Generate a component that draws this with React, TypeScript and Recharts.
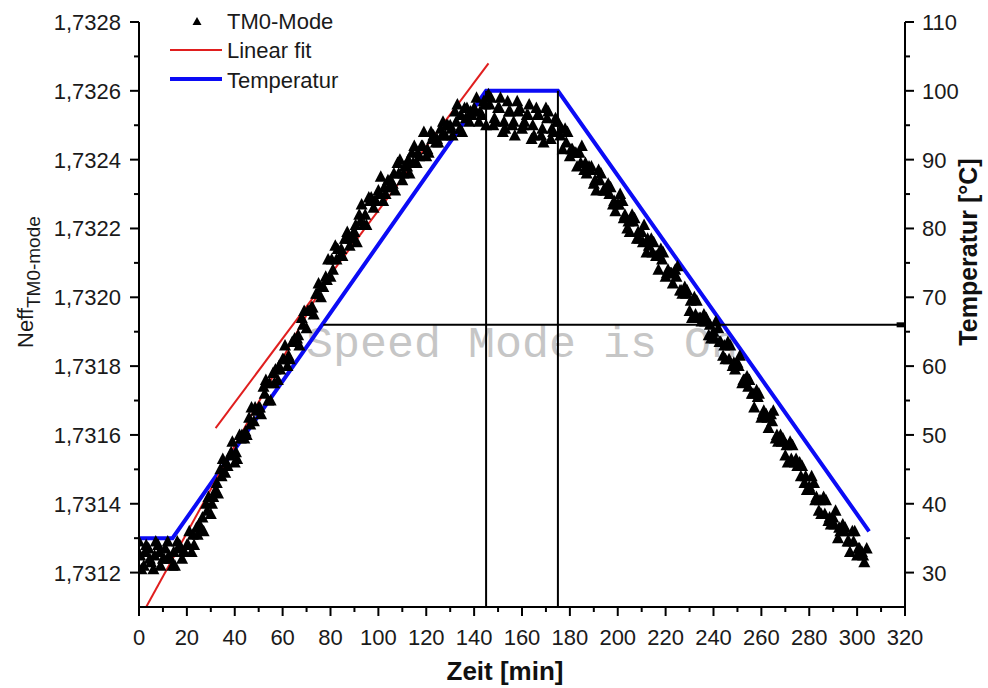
import React from "react";
import { ComposedChart, Scatter, Line, XAxis, YAxis, ReferenceLine, Legend } from "recharts";

const FONT = "'Liberation Sans', Arial, Helvetica, sans-serif";

// measurement time [min], even readings
const scanTimesA = [
  0, 2, 4, 6, 8, 10, 12, 14,
  16, 18, 20, 22, 24, 26, 28, 30, 32, 34, 36, 38, 40, 42, 44, 46, 48, 50, 52, 54,
  56, 58, 60, 62, 64, 66, 68, 70, 72, 74, 76, 78, 80, 82, 84, 86, 88, 90, 92, 94,
  96, 98, 100, 102, 104, 106, 108, 110, 112, 114, 116, 118, 120, 122, 124, 126, 128, 130, 132, 134,
  136, 138, 140, 142, 144,
  146, 148, 150, 152, 154, 156, 158, 160, 162, 164, 166, 168, 170, 172, 174,
  176, 178, 180, 182, 184, 186, 188, 190, 192, 194, 196, 198, 200, 202, 204, 206, 208, 210, 212, 214,
  216, 218, 220, 222, 224, 226, 228, 230, 232, 234, 236, 238, 240, 242, 244, 246, 248, 250, 252, 254,
  256, 258, 260, 262, 264, 266, 268, 270, 272, 274, 276, 278, 280, 282, 284, 286, 288, 290, 292, 294,
  296, 298, 300, 302, 304,
];

// effective index of the TM0 mode, even readings
const neffA = [
  1.73129, 1.73122, 1.73127, 1.73121, 1.73128, 1.73124, 1.73129, 1.73122,
  1.73129, 1.73124, 1.73128, 1.73126, 1.73133, 1.73133, 1.7314, 1.73137, 1.73144, 1.7315,
  1.73149, 1.73154, 1.73152, 1.7316, 1.73159, 1.73165, 1.73164, 1.73168, 1.73174, 1.7317,
  1.73178, 1.73176, 1.73182, 1.7318, 1.73187, 1.73188, 1.73194, 1.73191, 1.73197, 1.73201,
  1.732, 1.73206, 1.73206, 1.73215, 1.73212, 1.73217, 1.73215, 1.73219, 1.73224, 1.73221,
  1.73229, 1.73226, 1.73231, 1.73228, 1.73234, 1.73233, 1.73239, 1.73234, 1.73238, 1.73242,
  1.73239, 1.73244, 1.73241, 1.73248, 1.73245, 1.73249, 1.73247, 1.7325, 1.73254, 1.73249,
  1.73255, 1.73251, 1.73255, 1.73251, 1.73257,
  1.73259, 1.7325, 1.73255, 1.73248, 1.73257, 1.7325, 1.73257, 1.73249, 1.73253, 1.73246,
  1.73255, 1.73247, 1.73255, 1.73246, 1.73252,
  1.73247, 1.73249, 1.73241, 1.73242, 1.73242, 1.73237, 1.73238, 1.73233, 1.73237, 1.73231,
  1.73233, 1.73227, 1.73227, 1.73228, 1.7322, 1.73224, 1.73217, 1.73219, 1.73213, 1.73217,
  1.73212, 1.73214, 1.73206, 1.73207, 1.73208, 1.73202, 1.73203, 1.73196, 1.732, 1.73194,
  1.73195, 1.73189, 1.7319, 1.73191, 1.73183, 1.73187, 1.7318, 1.73181, 1.73175, 1.73177,
  1.73172, 1.73173, 1.73165, 1.73166, 1.73166, 1.73159, 1.7316, 1.73154, 1.73158, 1.73152,
  1.73152, 1.73146, 1.73145, 1.73146, 1.73138, 1.73142, 1.73135, 1.73136, 1.7313, 1.73134,
  1.73129, 1.73132, 1.73125, 1.73126, 1.73127,
];

// measurement time [min], odd readings
const scanTimesB = [
  1, 3, 5, 7, 9, 11, 13,
  15, 17, 19, 21, 23, 25, 27, 29, 31, 33, 35, 37, 39, 41, 43, 45, 47, 49, 51, 53,
  55, 57, 59, 61, 63, 65, 67, 69, 71, 73, 75, 77, 79, 81, 83, 85, 87, 89, 91, 93,
  95, 97, 99, 101, 103, 105, 107, 109, 111, 113, 115, 117, 119, 121, 123, 125, 127, 129, 131, 133,
  135, 137, 139, 141, 143,
  145, 147, 149, 151, 153, 155, 157, 159, 161, 163, 165, 167, 169, 171, 173,
  175, 177, 179, 181, 183, 185, 187, 189, 191, 193, 195, 197, 199, 201, 203, 205, 207, 209, 211, 213,
  215, 217, 219, 221, 223, 225, 227, 229, 231, 233, 235, 237, 239, 241, 243, 245, 247, 249, 251, 253,
  255, 257, 259, 261, 263, 265, 267, 269, 271, 273, 275, 277, 279, 281, 283, 285, 287, 289, 291, 293,
  295, 297, 299, 301, 303,
];

// effective index of the TM0 mode, odd readings
const neffB = [
  1.73121, 1.73128, 1.73123, 1.73129, 1.73122, 1.73127, 1.73124,
  1.73122, 1.73128, 1.73126, 1.73132, 1.73128, 1.73134, 1.73132, 1.73142, 1.73142, 1.73143,
  1.73153, 1.73151, 1.73158, 1.73153, 1.7316, 1.7316, 1.73168, 1.73167, 1.73166, 1.73176,
  1.7317, 1.73179, 1.73179, 1.73186, 1.73182, 1.73188, 1.73186, 1.73196, 1.73196, 1.73195,
  1.73204, 1.73203, 1.73211, 1.73208, 1.73214, 1.73212, 1.73219, 1.73218, 1.73216, 1.73227,
  1.73221, 1.73229, 1.73228, 1.73235, 1.7323, 1.73234, 1.73231, 1.7324, 1.73238, 1.73236,
  1.73244, 1.73241, 1.73248, 1.73242, 1.73247, 1.73245, 1.73251, 1.7325, 1.73247, 1.73256,
  1.73248, 1.73255, 1.73253, 1.73258, 1.73253,
  1.7325, 1.73258, 1.73251, 1.73258, 1.73249, 1.73254, 1.73247, 1.73255, 1.73251, 1.73256,
  1.73247, 1.73253, 1.73245, 1.73254, 1.73248,
  1.73251, 1.73243, 1.73248, 1.73243, 1.73238, 1.73244, 1.73236, 1.73238, 1.73231, 1.73236,
  1.73231, 1.73232, 1.73225, 1.7323, 1.73224, 1.73219, 1.73223, 1.73217, 1.73221, 1.73215,
  1.73216, 1.73208, 1.73213, 1.73208, 1.73204, 1.73209, 1.73201, 1.73202, 1.73194, 1.73199,
  1.73193, 1.73194, 1.73188, 1.73193, 1.73187, 1.73182, 1.73186, 1.73179, 1.73183, 1.73176,
  1.73176, 1.73168, 1.73172, 1.73167, 1.73162, 1.73167, 1.73158, 1.73159, 1.73152, 1.73157,
  1.73151, 1.73151, 1.73144, 1.73148, 1.73142, 1.73137, 1.73141, 1.73134, 1.73138, 1.73132,
  1.73133, 1.73126, 1.73132, 1.73127, 1.73123,
];

// measurement time [min], half-minute readings
const scanTimesC = [
  0.5, 2.5, 4.5, 6.5, 8.5, 10.5, 12.5, 14.5,
  16.5, 18.5, 20.5, 22.5, 24.5, 26.5, 28.5, 30.5, 32.5, 34.5, 36.5, 38.5, 40.5, 42.5, 44.5, 46.5, 48.5, 50.5,
  52.5, 54.5, 56.5, 58.5, 60.5, 62.5, 64.5, 66.5, 68.5, 70.5, 72.5, 74.5, 76.5, 78.5, 80.5, 82.5, 84.5, 86.5,
  88.5, 90.5, 92.5, 94.5, 96.5, 98.5, 100.5, 102.5, 104.5, 106.5, 108.5, 110.5, 112.5, 114.5, 116.5, 118.5,
  120.5, 122.5, 124.5, 126.5, 128.5, 130.5, 132.5, 134.5, 136.5, 138.5, 140.5, 142.5, 144.5,
  146.5, 148.5, 150.5, 152.5, 154.5, 156.5, 158.5, 160.5, 162.5, 164.5, 166.5, 168.5, 170.5, 172.5, 174.5,
  176.5, 178.5, 180.5, 182.5, 184.5, 186.5, 188.5, 190.5, 192.5, 194.5, 196.5, 198.5, 200.5, 202.5, 204.5,
  206.5, 208.5, 210.5, 212.5, 214.5, 216.5, 218.5, 220.5, 222.5, 224.5, 226.5, 228.5, 230.5, 232.5, 234.5,
  236.5, 238.5, 240.5, 242.5, 244.5, 246.5, 248.5, 250.5, 252.5, 254.5, 256.5, 258.5, 260.5, 262.5, 264.5,
  266.5, 268.5, 270.5, 272.5, 274.5, 276.5, 278.5, 280.5, 282.5, 284.5, 286.5, 288.5, 290.5, 292.5, 294.5,
  296.5, 298.5, 300.5, 302.5,
];

// effective index of the TM0 mode, half-minute readings
const neffC = [
  1.73125, 1.73126, 1.73124, 1.73125, 1.73126, 1.73124, 1.73125, 1.73126,
  1.73127, 1.73126, 1.73128, 1.73131, 1.73131, 1.73136, 1.73138, 1.7314, 1.73146, 1.73148,
  1.73152, 1.73155, 1.73155, 1.73159, 1.73161, 1.73163, 1.73168, 1.73168, 1.73172, 1.73175,
  1.73175, 1.7318, 1.73182, 1.73183, 1.73187, 1.73189, 1.73192, 1.73196, 1.73197, 1.73201,
  1.73203, 1.73205, 1.73211, 1.73211, 1.73214, 1.73217, 1.73217, 1.73221, 1.73222, 1.73224,
  1.73228, 1.73228, 1.7323, 1.73232, 1.73232, 1.73236, 1.73236, 1.73236, 1.7324, 1.73239,
  1.73242, 1.73244, 1.73243, 1.73246, 1.73246, 1.73247, 1.7325, 1.73249, 1.73251, 1.73253,
  1.73252, 1.73254, 1.73254, 1.73254, 1.73256,
  1.73256, 1.73252, 1.73255, 1.73251, 1.73254, 1.73251, 1.73254, 1.7325, 1.73253, 1.7325,
  1.73253, 1.73249, 1.73252, 1.73249, 1.73251,
  1.73249, 1.73245, 1.73243, 1.73242, 1.73239, 1.73239, 1.73237, 1.73234, 1.73234, 1.73231,
  1.7323, 1.73228, 1.73227, 1.73223, 1.73222, 1.73222, 1.73219, 1.73216, 1.73217, 1.73213,
  1.73212, 1.73211, 1.73207, 1.73207, 1.73206, 1.73202, 1.73201, 1.73199, 1.73195, 1.73194,
  1.73193, 1.73192, 1.73188, 1.73187, 1.73186, 1.73182, 1.73181, 1.7318, 1.73176, 1.73174,
  1.73172, 1.73171, 1.73166, 1.73165, 1.73164, 1.7316, 1.73158, 1.73157, 1.73153, 1.73153,
  1.73148, 1.73148, 1.73144, 1.73141, 1.73141, 1.73137, 1.73136, 1.73134, 1.73133, 1.73132,
  1.73129, 1.73129, 1.73127, 1.73125,
];

// temperature profile
const tempTimes = [0, 14, 145, 175, 305];
const tempValues = [35, 35, 100, 100, 36];

// linear fits
const fitEarlyTimes = [3, 78];
const fitEarlyNeff = [1.7311, 1.73205];
const fitLateTimes = [32, 146];
const fitLateNeff = [1.73162, 1.73268];

// markers: plateau edges and the crossing line
const plateauEdges = [145, 175];
const crossTime = 77;
const crossTemp = 66;

const xMajorTicks = [0, 20, 40, 60, 80, 100, 120, 140, 160, 180, 200, 220, 240, 260, 280, 300, 320];
const xMinorTicks = [10, 30, 50, 70, 90, 110, 130, 150, 170, 190, 210, 230, 250, 270, 290, 310];
const neffMajorTicks = [1.7312, 1.7314, 1.7316, 1.7318, 1.732, 1.7322, 1.7324, 1.7326, 1.7328];
const neffMinorTicks = [1.7313, 1.7315, 1.7317, 1.7319, 1.7321, 1.7323, 1.7325, 1.7327];
const tempMajorTicks = [30, 40, 50, 60, 70, 80, 90, 100, 110];
const tempMinorTicks = [35, 45, 55, 65, 75, 85, 95, 105];

const scanData = [
  ...scanTimesA.map((t, i) => ({ t, neff: neffA[i] })),
  ...scanTimesB.map((t, i) => ({ t, neff: neffB[i] })),
  ...scanTimesC.map((t, i) => ({ t, neff: neffC[i] })),
];
const tempData = tempTimes.map((t, i) => ({ t, temp: tempValues[i] }));
const fitEarly = fitEarlyTimes.map((t, i) => ({ t, neff: fitEarlyNeff[i] }));
const fitLate = fitLateTimes.map((t, i) => ({ t, neff: fitLateNeff[i] }));

const inList = (list: number[], v: number) => list.some((m) => Math.abs(m - v) < 1e-9);

const tickText = { fontSize: 22, fontFamily: FONT, fill: "#1a1a1a" };

function XTick({ x, y, payload }: any) {
  const minor = inList(xMinorTicks, payload.value);
  return (
    <g>
      <line x1={x} y1={y} x2={x} y2={y + (minor ? 5 : 9)} stroke="#000" strokeWidth={2} />
      {!minor && (
        <text x={x} y={y + 38} textAnchor="middle" {...tickText}>
          {payload.value}
        </text>
      )}
    </g>
  );
}

function NeffTick({ x, y, payload }: any) {
  const minor = inList(neffMinorTicks, payload.value);
  return (
    <g>
      <line x1={x} y1={y} x2={x - (minor ? 5 : 9)} y2={y} stroke="#000" strokeWidth={2} />
      {!minor && (
        <text x={x - 18} y={y + 8} textAnchor="end" {...tickText}>
          {payload.value.toFixed(4).replace(".", ",")}
        </text>
      )}
    </g>
  );
}

function TempTick({ x, y, payload }: any) {
  const minor = inList(tempMinorTicks, payload.value);
  return (
    <g>
      <line x1={x} y1={y} x2={x + (minor ? 5 : 9)} y2={y} stroke="#000" strokeWidth={2} />
      {!minor && (
        <text x={x + 17} y={y + 8} textAnchor="start" {...tickText}>
          {payload.value}
        </text>
      )}
    </g>
  );
}

function Triangle({ cx, cy }: any) {
  if (cx == null || cy == null) return null;
  return <polygon points={`${cx},${cy - 6.5} ${cx + 6},${cy + 5} ${cx - 6},${cy + 5}`} fill="#000" />;
}

function LegendBox() {
  const txt = { fontSize: 22, fontFamily: FONT, fill: "#1a1a1a" };
  return (
    <svg width={200} height={96} style={{ display: "block" }}>
      <polygon points="37,17 41.5,25 32.5,25" fill="#000" />
      <text x={67} y={29} {...txt}>TM0-Mode</text>
      <line x1={10} y1={50} x2={62} y2={50} stroke="#e01e1e" strokeWidth={2} />
      <text x={67} y={58} {...txt}>Linear fit</text>
      <line x1={10} y1={79} x2={62} y2={79} stroke="#0b0bf5" strokeWidth={4} />
      <text x={67} y={88} {...txt}>Temperatur</text>
    </svg>
  );
}

export default function App() {
  return (
    <div style={{ position: "absolute", left: 0, top: 0, width: 988, height: 688, background: "#fff" }}>
      <svg width={988} height={688} style={{ position: "absolute", left: 0, top: 0 }}>
        <text x={306} y={357} fontSize={45} fontFamily="'Liberation Mono', 'Courier New', monospace" fill="#c6c6c6">
          Speed Mode is On
        </text>
      </svg>
      <div style={{ position: "absolute", left: 0, top: 0 }}>
        <ComposedChart width={988} height={688} margin={{ top: 22, right: 0, bottom: 0, left: 0 }}>
          <XAxis
            dataKey="t"
            type="number"
            domain={[0, 320]}
            ticks={[...xMajorTicks, ...xMinorTicks].sort((a, b) => a - b)}
            interval={0}
            allowDataOverflow
            height={81}
            tickSize={0}
            tickMargin={0}
            tickLine={false}
            axisLine={{ stroke: "#000", strokeWidth: 2 }}
            tick={<XTick />}
            label={{
              content: () => (
                <text x={505} y={680} textAnchor="middle" fontSize={26} fontWeight="bold" fontFamily={FONT} fill="#111">
                  Zeit [min]
                </text>
              ),
            }}
          />
          <YAxis
            yAxisId="neff"
            dataKey="neff"
            type="number"
            domain={[1.7311, 1.7328]}
            ticks={[...neffMajorTicks, ...neffMinorTicks].sort((a, b) => a - b)}
            interval={0}
            allowDataOverflow
            width={139}
            tickSize={0}
            tickMargin={0}
            tickLine={false}
            axisLine={{ stroke: "#000", strokeWidth: 2 }}
            tick={<NeffTick />}
            label={{
              content: () => (
                <text transform="rotate(-90)" x={-348} y={33} fontSize={22} fontFamily={FONT} fill="#1a1a1a">
                  Neff
                  <tspan fontSize={19} dy={7}>TM0-mode</tspan>
                </text>
              ),
            }}
          />
          <YAxis
            yAxisId="temp"
            dataKey="temp"
            orientation="right"
            type="number"
            domain={[25, 110]}
            ticks={[...tempMajorTicks, ...tempMinorTicks].sort((a, b) => a - b)}
            interval={0}
            allowDataOverflow
            width={83}
            tickSize={0}
            tickMargin={0}
            tickLine={false}
            axisLine={{ stroke: "#000", strokeWidth: 2 }}
            tick={<TempTick />}
            label={{
              content: () => (
                <text transform="rotate(-90)" x={-252} y={977} textAnchor="middle" fontSize={25} fontWeight="bold" fontFamily={FONT} fill="#111">
                  Temperatur [°C]
                </text>
              ),
            }}
          />
          <Legend
            layout="vertical"
            align="center"
            verticalAlign="middle"
            content={() => <LegendBox />}
            wrapperStyle={{ top: 0, left: 160, width: 200, height: 96 }}
          />
          <Scatter
            name="TM0-Mode"
            data={scanData}
            dataKey="neff"
            yAxisId="neff"
            shape={<Triangle />}
            fill="#000"
            isAnimationActive={false}
          />
          <Line
            name="Temperatur"
            data={tempData}
            dataKey="temp"
            yAxisId="temp"
            type="linear"
            stroke="#0b0bf5"
            strokeWidth={4}
            dot={false}
            isAnimationActive={false}
          />
          <Line
            name="Linear fit"
            data={fitEarly}
            dataKey="neff"
            yAxisId="neff"
            type="linear"
            stroke="#e01e1e"
            strokeWidth={2}
            dot={false}
            legendType="none"
            isAnimationActive={false}
          />
          <Line
            data={fitLate}
            dataKey="neff"
            yAxisId="neff"
            type="linear"
            stroke="#e01e1e"
            strokeWidth={2}
            dot={false}
            legendType="none"
            isAnimationActive={false}
          />
          {plateauEdges.map((edge) => (
            <ReferenceLine
              key={edge}
              yAxisId="temp"
              segment={[{ x: edge, y: 100 }, { x: edge, y: 25 }]}
              stroke="#000"
              strokeWidth={2}
            />
          ))}
          <ReferenceLine
            yAxisId="temp"
            segment={[{ x: crossTime, y: crossTemp }, { x: 320, y: crossTemp }]}
            stroke="#000"
            strokeWidth={2}
          />
          <ReferenceLine
            yAxisId="temp"
            segment={[{ x: 316.5, y: crossTemp }, { x: 320, y: crossTemp }]}
            stroke="#000"
            strokeWidth={5}
          />
        </ComposedChart>
      </div>
    </div>
  );
}
